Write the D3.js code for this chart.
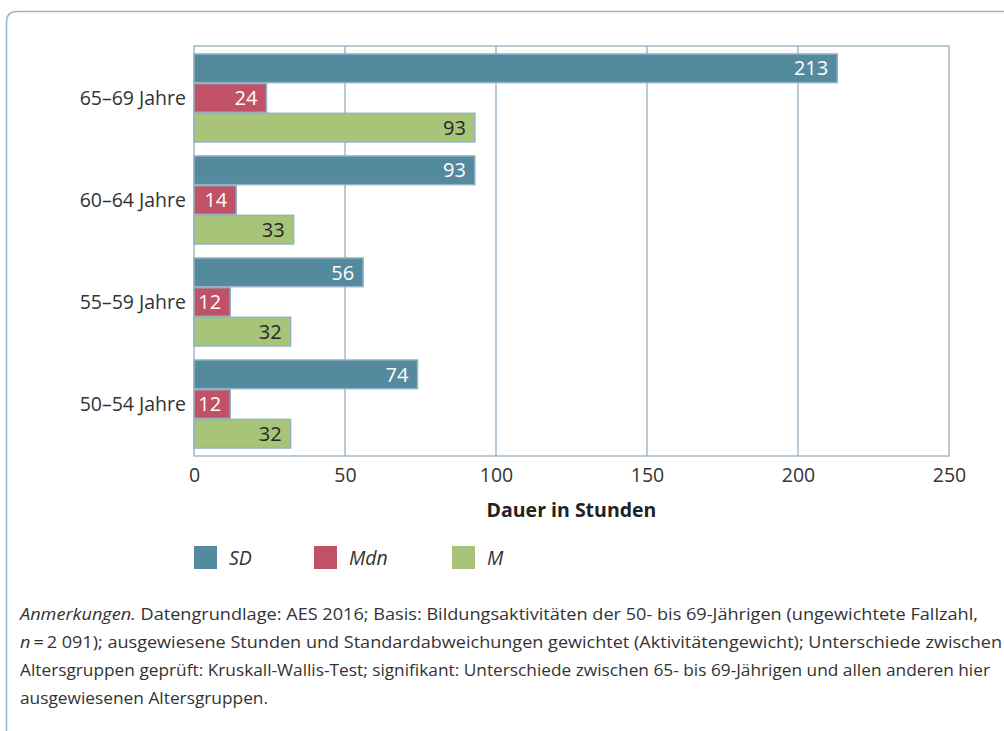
<!DOCTYPE html>
<html>
<head>
<meta charset="utf-8">
<script src="https://cdn.jsdelivr.net/npm/d3@7"></script>
<style>
  body { margin: 0; background: #fff; }
  svg { display: block; font-family: "Open Sans", "Noto Sans", sans-serif; }
</style>
</head>
<body>
<div id="chart"></div>
<script>
// Data
const groups = ["65–69 Jahre", "60–64 Jahre", "55–59 Jahre", "50–54 Jahre"];
const seriesKeys = ["SD", "Mdn", "M"];
const sdValues = [213, 93, 56, 74];
const mdnValues = [24, 14, 12, 12];
const meanValues = [93, 33, 32, 32];
const xTicks = [0, 50, 100, 150, 200, 250];
const xTitle = "Dauer in Stunden";
const noteLines = [
  ["Anmerkungen.", " Datengrundlage: AES 2016; Basis: Bildungsaktivitäten der 50- bis 69-Jährigen (ungewichtete Fallzahl,"],
  ["n", "\u2009=\u20092 091); ausgewiesene Stunden und Standardabweichungen gewichtet (Aktivitätengewicht); Unterschiede zwischen"],
  ["", "Altersgruppen geprüft: Kruskall-Wallis-Test; signifikant: Unterschiede zwischen 65- bis 69-Jährigen und allen anderen hier"],
  ["", "ausgewiesenen Altersgruppen."]
];
const noteWidths = [958, 982, 970, 248];

const colors = { SD: "#538a9d", Mdn: "#c05166", M: "#a8c479" };
const labelColors = { SD: "#ffffff", Mdn: "#ffffff", M: "#262626" };
const gridColor = "#8ba7ba";
const textColor = "#333333";

const width = 1004, height = 731;
const plot = { left: 194, right: 949, top: 46, bottom: 456 };

const rows = groups.map((g, i) => ({
  group: g,
  values: [
    { key: "SD", value: sdValues[i] },
    { key: "Mdn", value: mdnValues[i] },
    { key: "M", value: meanValues[i] }
  ]
}));

const svg = d3.select("#chart").append("svg")
  .attr("width", width)
  .attr("height", height);

// Outer frame (rounded, runs off right and bottom)
svg.append("path")
  .attr("d", `M${width + 5},11.5 H17 Q6.5,11.5 6.5,22 V${height + 5}`)
  .attr("fill", "none")
  .attr("stroke", "#9bb5c6")
  .attr("stroke-width", 1.5);

const x = d3.scaleLinear().domain([0, 250]).range([plot.left, plot.right]);
const y = d3.scaleBand().domain(groups).range([plot.top, plot.bottom])
  .paddingInner(0.127).paddingOuter(0.073);
const yInner = d3.scaleBand().domain(seriesKeys).range([0, y.bandwidth()]);

// Grid lines and plot frame
svg.append("g").selectAll("line")
  .data(xTicks.slice(1, -1))
  .join("line")
  .attr("x1", d => x(d)).attr("x2", d => x(d))
  .attr("y1", plot.top).attr("y2", plot.bottom)
  .attr("stroke", gridColor).attr("stroke-width", 1.2);

svg.append("rect")
  .attr("x", plot.left).attr("y", plot.top)
  .attr("width", plot.right - plot.left).attr("height", plot.bottom - plot.top)
  .attr("fill", "none")
  .attr("stroke", gridColor).attr("stroke-width", 1.2);

// Bars
const groupG = svg.append("g").selectAll("g")
  .data(rows)
  .join("g")
  .attr("transform", d => `translate(0,${y(d.group)})`);

groupG.selectAll("rect")
  .data(d => d.values)
  .join("rect")
  .attr("x", x(0))
  .attr("y", d => yInner(d.key) + 0.5)
  .attr("width", d => x(d.value) - x(0))
  .attr("height", yInner.bandwidth() - 1)
  .attr("fill", d => colors[d.key])
  .attr("stroke", "#93b2c6")
  .attr("stroke-width", 1.5);

groupG.selectAll("text")
  .data(d => d.values)
  .join("text")
  .attr("x", d => x(d.value) - 9)
  .attr("y", d => yInner(d.key) + yInner.bandwidth() / 2)
  .attr("dy", "0.36em")
  .attr("text-anchor", "end")
  .attr("fill", d => labelColors[d.key])
  .style("font-size", "20px")
  .text(d => d.value);

// Y labels
svg.append("g").selectAll("text")
  .data(groups)
  .join("text")
  .attr("x", plot.left - 8)
  .attr("y", d => y(d) + yInner("Mdn") + yInner.bandwidth() / 2)
  .attr("dy", "0.36em")
  .attr("text-anchor", "end")
  .attr("fill", textColor)
  .style("font-size", "19.5px")
  .text(d => d);

// X axis
const xAxis = svg.append("g")
  .attr("transform", `translate(0,${plot.bottom})`)
  .call(d3.axisBottom(x).tickValues(xTicks).tickSize(0).tickPadding(12));
xAxis.select(".domain").remove();
xAxis.selectAll("text")
  .attr("fill", textColor)
  .style("font-size", "19.5px")
  .style("font-family", "\"Open Sans\", \"Noto Sans\", sans-serif");

svg.append("text")
  .attr("x", (plot.left + plot.right) / 2)
  .attr("y", 510)
  .attr("dy", "0.36em")
  .attr("text-anchor", "middle")
  .attr("fill", "#222")
  .style("font-size", "19.5px")
  .style("font-weight", "bold")
  .text(xTitle);

// Legend
const legendX = [194, 314, 452];
const legend = svg.append("g").selectAll("g")
  .data(seriesKeys)
  .join("g")
  .attr("transform", (d, i) => `translate(${legendX[i]},546)`);
legend.append("rect")
  .attr("width", 23).attr("height", 23)
  .attr("fill", d => colors[d]);
legend.append("text")
  .attr("x", 35).attr("y", 11.5)
  .attr("dy", "0.36em")
  .attr("fill", textColor)
  .style("font-size", "19.5px")
  .style("font-style", "italic")
  .text(d => d);

// Footnote
const notes = svg.append("g").selectAll("text")
  .data(noteLines)
  .join("text")
  .attr("x", 20)
  .attr("y", (d, i) => 620 + i * 28)
  .attr("fill", textColor)
  .style("font-size", "17px")
  .attr("textLength", (d, i) => noteWidths[i])
  .attr("lengthAdjust", "spacingAndGlyphs");
notes.append("tspan").style("font-style", "italic").text(d => d[0]);
notes.append("tspan").text(d => d[1]);
</script>
</body>
</html>
